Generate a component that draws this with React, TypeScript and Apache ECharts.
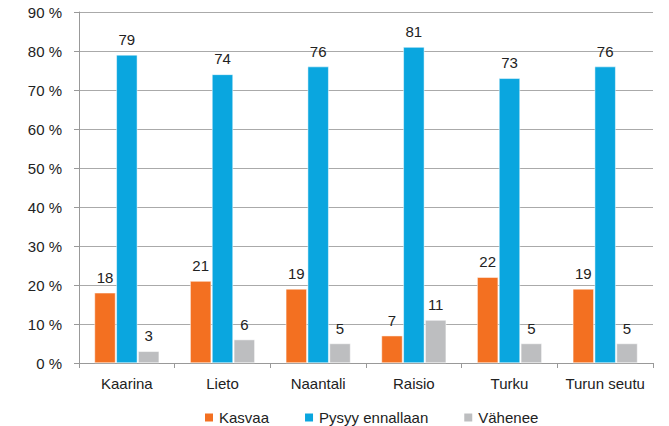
import React, { useEffect, useRef } from "react";
import * as echarts from "echarts";

const categories = ["Kaarina", "Lieto", "Naantali", "Raisio", "Turku", "Turun seutu"];
const kasvaa = [18, 21, 19, 7, 22, 19];
const pysyy = [79, 74, 76, 81, 73, 76];
const vahenee = [3, 6, 5, 11, 5, 5];
const seriesNames = ["Kasvaa", "Pysyy ennallaan", "Vähenee"];
const colors = ["#F37021", "#0AA6DF", "#BDBEC0"];

export default function App() {
  const ref = useRef<HTMLDivElement>(null);
  useEffect(() => {
    const chart = echarts.init(ref.current!, null, { renderer: "svg" });
    const font = "'Liberation Sans', Arial, sans-serif";
    const mk = (name: string, data: number[], color: string) => ({
      name,
      type: "bar",
      data,
      barWidth: 21,
      barGap: "4%",
      itemStyle: { color, borderColor: "#fff", borderWidth: 0.5 },
      label: {
        show: true,
        position: "top",
        distance: 8,
        color: "#222",
        fontSize: 15,
        fontFamily: font,
      },
    });
    chart.setOption({
      animation: false,
      textStyle: { fontFamily: font },
      grid: { left: 79, right: 16, top: 12, bottom: 63, containLabel: false },
      legend: {
        top: 410,
        left: 203,
        padding: 0,
        icon: "rect",
        itemWidth: 10,
        itemHeight: 10,
        itemGap: 34,
        textStyle: { fontSize: 15, color: "#222", fontFamily: font },
        data: seriesNames,
      },
      xAxis: {
        type: "category",
        data: categories,
        axisLine: { lineStyle: { color: "#999" } },
        axisTick: { show: true, length: 5, lineStyle: { color: "#999" } },
        axisLabel: { fontSize: 15, color: "#222", margin: 13, interval: 0, fontFamily: font },
      },
      yAxis: {
        type: "value",
        min: 0,
        max: 90,
        interval: 10,
        axisLine: { show: true, lineStyle: { color: "#999" } },
        axisTick: { show: true, length: 5, inside: false, lineStyle: { color: "#999" } },
        splitLine: { lineStyle: { color: "#aaa" } },
        axisLabel: {
          fontSize: 15,
          color: "#222",
          margin: 17,
          fontFamily: font,
          formatter: (v: number) => `${v} %`,
        },
      },
      series: [
        mk(seriesNames[0], kasvaa, colors[0]),
        mk(seriesNames[1], pysyy, colors[1]),
        mk(seriesNames[2], vahenee, colors[2]),
      ],
    });
    return () => chart.dispose();
  }, []);
  return <div ref={ref} style={{ width: 669, height: 426, position: "absolute", left: 0, top: 0 }} />;
}
